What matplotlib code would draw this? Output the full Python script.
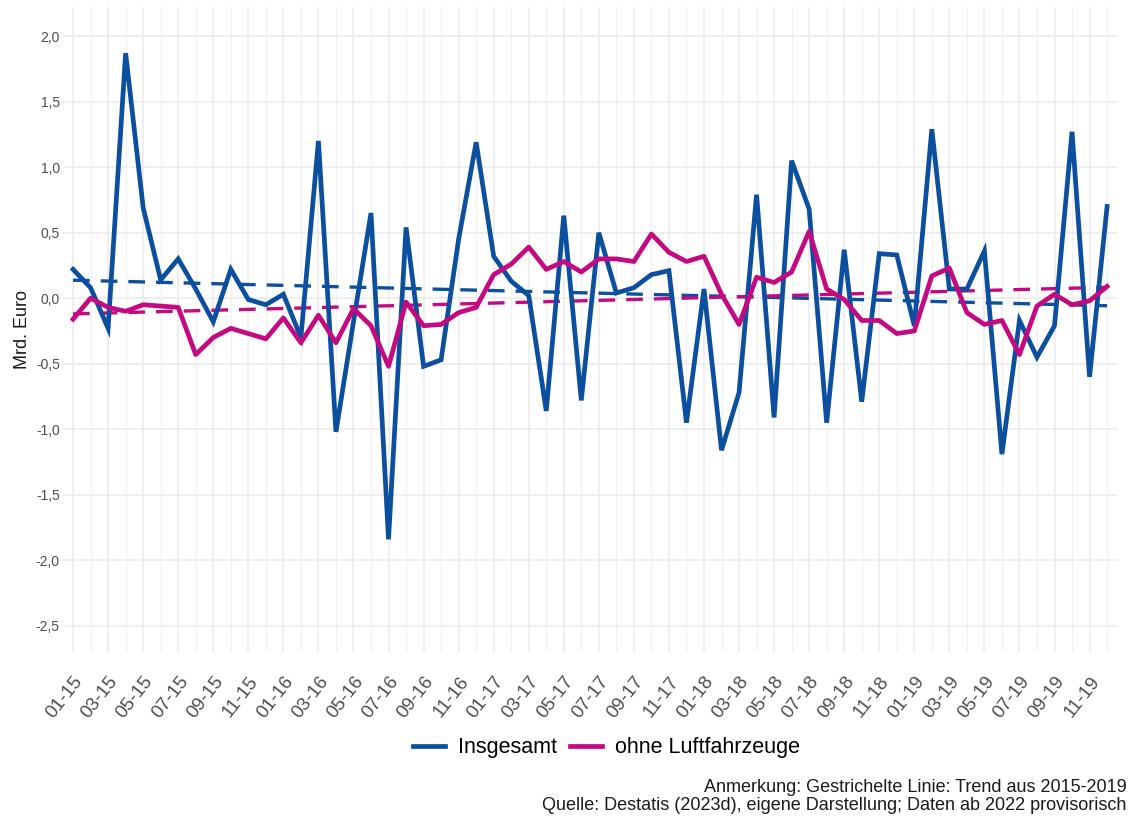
import matplotlib.pyplot as plt
import numpy as np
import pandas as pd

plt.rcParams['font.family'] = ['Liberation Sans', 'DejaVu Sans']

# monthly values 01-2015 .. 12-2019, Mrd. Euro
months = pd.date_range('2015-01-01', periods=60, freq='MS')
month_labels = [d.strftime('%m-%y') for d in months]

insgesamt = [0.22, 0.08, -0.23, 1.87, 0.69, 0.14, 0.30, 0.07, -0.18, 0.22,
             -0.01, -0.05, 0.03, -0.30, 1.20, -1.02, -0.18, 0.65, -1.84, 0.54,
             -0.52, -0.47, 0.45, 1.19, 0.32, 0.13, 0.02, -0.86, 0.63, -0.78,
             0.50, 0.04, 0.08, 0.18, 0.21, -0.95, 0.07, -1.16, -0.72, 0.79,
             -0.91, 1.05, 0.68, -0.95, 0.37, -0.79, 0.34, 0.33, -0.21, 1.29,
             0.07, 0.07, 0.36, -1.19, -0.17, -0.45, -0.21, 1.27, -0.60, 0.70]

ohne_luftfahrzeuge = [-0.16, 0.00, -0.07, -0.10, -0.05, -0.06, -0.07, -0.43, -0.30, -0.23,
                      -0.27, -0.31, -0.15, -0.34, -0.13, -0.34, -0.08, -0.21, -0.52, -0.03,
                      -0.21, -0.20, -0.11, -0.07, 0.18, 0.26, 0.39, 0.22, 0.28, 0.20,
                      0.30, 0.30, 0.28, 0.49, 0.35, 0.28, 0.32, 0.03, -0.20, 0.16,
                      0.12, 0.20, 0.51, 0.07, -0.01, -0.17, -0.17, -0.27, -0.25, 0.17,
                      0.23, -0.11, -0.20, -0.17, -0.43, -0.06, 0.03, -0.05, -0.02, 0.09]

blue = '#0b4f9e'
magenta = '#c40a80'

x = np.arange(len(months))

fig = plt.figure(figsize=(11.29, 8.18), dpi=100)
ax = fig.add_axes([0.0554, 0.2029, 0.9345, 0.789])

# light grid like ggplot theme_minimal
ax.set_xticks(x[::2])
ax.set_xticks(x[1::2], minor=True)
ax.set_yticks(np.arange(-2.5, 2.01, 0.5))
ax.grid(which='major', color='#ebebeb', linewidth=1.1)
ax.grid(which='minor', axis='x', color='#f0f0f0', linewidth=0.8)
ax.set_axisbelow(True)

# trend lines (linear fit over 2015-2019)
for series, col in [(insgesamt, blue), (ohne_luftfahrzeuge, magenta)]:
    coef = np.polyfit(x, series, 1)
    ax.plot(x, np.polyval(coef, x), color=col, linewidth=2.4, dashes=(5, 3.3))

ax.plot(x, insgesamt, color=blue, linewidth=3.4, label='Insgesamt', solid_joinstyle='miter')
ax.plot(x, ohne_luftfahrzeuge, color=magenta, linewidth=3.4, label='ohne Luftfahrzeuge')

ax.set_xlim(-0.6, 59.6)
ax.set_ylim(-2.7, 2.225)

ax.set_xticklabels(month_labels[::2], rotation=52, ha='right', va='top',
                   rotation_mode='anchor', fontsize=13.5, color='#4d4d4d')
ax.set_yticklabels([f'{v:.1f}'.replace('.', ',') for v in np.arange(-2.5, 2.01, 0.5)],
                   fontsize=10, color='#4d4d4d')
ax.tick_params(axis='both', which='both', length=0)
ax.tick_params(axis='x', pad=15)
ax.tick_params(axis='y', pad=2)
for s in ax.spines.values():
    s.set_visible(False)

ax.set_ylabel('Mrd. Euro', fontsize=13, color='#1a1a1a')
ax.yaxis.set_label_coords(-0.030, 0.5)

fig.legend(loc='center', bbox_to_anchor=(0.537, 1 - 748 / 818), ncol=2, frameon=False,
           fontsize=15.5, handlelength=1.5, handletextpad=0.6, columnspacing=0.6)

fig.text(0.998, 1 - 788 / 818, 'Anmerkung: Gestrichelte Linie: Trend aus 2015-2019',
         ha='right', va='center', fontsize=13, color='#1a1a1a')
fig.text(0.998, 1 - 806 / 818, 'Quelle: Destatis (2023d), eigene Darstellung; Daten ab 2022 provisorisch',
         ha='right', va='center', fontsize=13, color='#1a1a1a')

fig.savefig('out.png', dpi=100)
